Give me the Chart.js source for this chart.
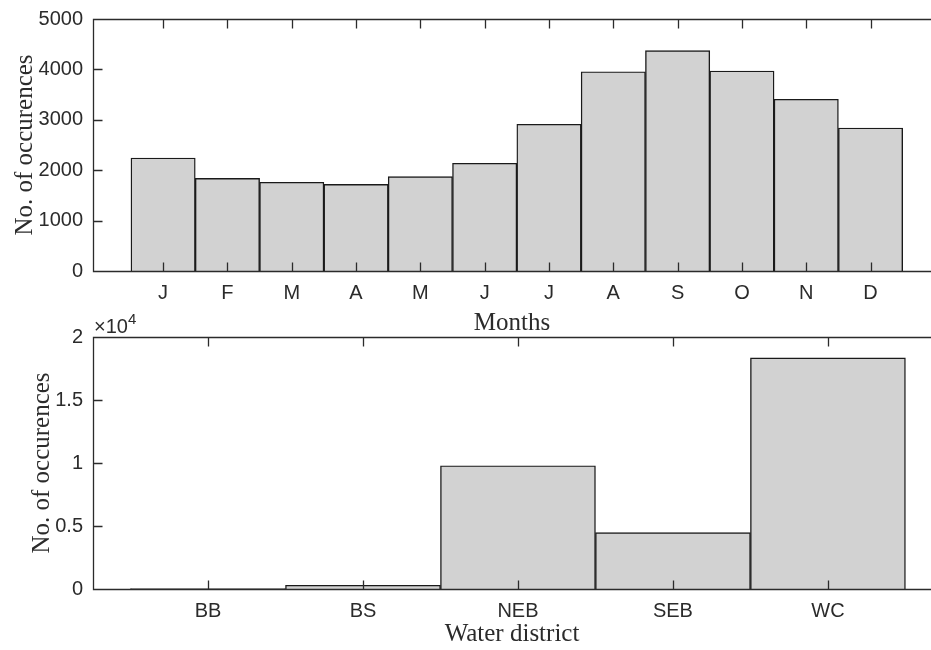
<!DOCTYPE html>
<html>
<head>
<meta charset="utf-8">
<script src="https://cdn.jsdelivr.net/npm/chart.js@4"></script>
<style>
  body { margin: 0; background: #fff; overflow: hidden; width: 931px; height: 650px; position: relative; }
  canvas { position: absolute; left: 0; }
  #monthChart { top: 0; }
  #districtChart { top: 300px; }
</style>
</head>
<body>
<canvas id="monthChart" width="931" height="340"></canvas>
<canvas id="districtChart" width="931" height="350"></canvas>
<script>
// Occurrences by month
const monthLabels = ['J', 'F', 'M', 'A', 'M', 'J', 'J', 'A', 'S', 'O', 'N', 'D'];
const monthCounts = [2242, 1839, 1760, 1720, 1871, 2137, 2911, 3954, 4371, 3968, 3407, 2837];
const monthYTicks = [0, 1000, 2000, 3000, 4000, 5000];

// Occurrences by water district
const districtLabels = ['BB', 'BS', 'NEB', 'SEB', 'WC'];
const districtCounts = [30, 294, 9780, 4475, 18340];
const districtYTicks = [0, 5000, 10000, 15000, 20000];

const axisColor = '#2b2b2b';
const barFill = '#d2d2d2';
const barEdge = '#1a1a1a';
const tickFont = { family: '"Liberation Sans", Arial, sans-serif', size: 20 };
const titleFont = { family: '"Liberation Serif", "Times New Roman", serif', size: 25 };
const tickLen = 9;

Chart.defaults.color = axisColor;

// draw the MATLAB style box with inward ticks
const boxTicks = {
    id: 'boxTicks',
    afterDatasetsDraw(chart) {
        const { ctx, chartArea: a, scales: { x, y } } = chart;
        const l = a.left + 0.5, b = Math.round(a.bottom) + 0.5, t = Math.round(a.top) + 0.5;
        ctx.save();
        ctx.strokeStyle = axisColor;
        ctx.lineWidth = 1.3;
        ctx.beginPath();
        ctx.moveTo(a.right, t);
        ctx.lineTo(l, t);
        ctx.lineTo(l, b);
        ctx.lineTo(a.right, b);
        x.ticks.forEach(tk => {
            const px = Math.round(x.getPixelForValue(tk.value)) + 0.5;
            ctx.moveTo(px, b); ctx.lineTo(px, b - tickLen);
            ctx.moveTo(px, t); ctx.lineTo(px, t + tickLen);
        });
        y.ticks.forEach(tk => {
            const py = Math.round(y.getPixelForValue(tk.value)) + 0.5;
            ctx.moveTo(l, py); ctx.lineTo(l + tickLen, py);
        });
        ctx.stroke();
        const exp = chart.options.plugins.boxTicks && chart.options.plugins.boxTicks.exponent;
        if (exp) {
            ctx.fillStyle = axisColor;
            ctx.textBaseline = 'alphabetic';
            ctx.font = '20px "Liberation Sans", Arial, sans-serif';
            ctx.fillText('\u00d710', a.left + 1, a.top - 4);
            const w = ctx.measureText('\u00d710').width;
            ctx.font = '15px "Liberation Sans", Arial, sans-serif';
            ctx.fillText(exp, a.left + 1 + w, a.top - 13);
        }
        ctx.restore();
    }
};

function makeChart(id, labels, counts, yTicks, opts) {
    const ctx = document.getElementById(id).getContext('2d');
    return new Chart(ctx, {
        type: 'bar',
        data: {
            datasets: [{
                data: counts.map((v, i) => ({ x: i + 1, y: v })),
                backgroundColor: barFill,
                borderColor: barEdge,
                borderWidth: 1.4,
                barPercentage: 1,
                categoryPercentage: 1
            }]
        },
        options: {
            responsive: false,
            animation: false,
            devicePixelRatio: 1,
            layout: { padding: { top: opts.padTop, left: 0, right: 0, bottom: 0 } },
            plugins: {
                legend: { display: false },
                tooltip: { enabled: false },
                boxTicks: { exponent: opts.exponent }
            },
            scales: {
                x: {
                    type: 'linear',
                    offset: false,
                    min: opts.xMin,
                    max: opts.xMax,
                    grid: { display: false, offset: false },
                    border: { display: false },
                    afterBuildTicks: s => { s.ticks = labels.map((l, i) => ({ value: i + 1 })); },
                    afterFit: s => { s.height = opts.xHeight; },
                    ticks: {
                        font: tickFont,
                        padding: opts.xTickPad,
                        maxRotation: 0,
                        autoSkip: false,
                        callback: v => labels[v - 1]
                    },
                    title: { display: true, text: opts.xTitle, font: titleFont, padding: opts.xTitlePad }
                },
                y: {
                    min: 0,
                    max: yTicks[yTicks.length - 1],
                    grid: { display: false },
                    border: { display: false },
                    afterBuildTicks: s => { s.ticks = yTicks.map(v => ({ value: v })); },
                    afterFit: s => { s.width = 93; },
                    ticks: {
                        font: tickFont,
                        padding: 2,
                        callback: opts.yFormat
                    },
                    title: { display: true, text: 'No. of occurences', font: titleFont, padding: opts.yTitlePad }
                }
            }
        },
        plugins: [boxTicks]
    });
}

makeChart('monthChart', monthLabels, monthCounts, monthYTicks, {
    padTop: 19, xMin: -0.09, xMax: 12.94, xHeight: 69, xTickPad: 2,
    xTitle: 'Months', xTitlePad: { top: 0, bottom: 2 }, yTitlePad: { top: 10, bottom: 0 },
    yFormat: v => String(v), exponent: null
});

makeChart('districtChart', districtLabels, districtCounts, districtYTicks, {
    padTop: 37, xMin: 0.258, xMax: 5.665, xHeight: 61, xTickPad: 2,
    xTitle: 'Water district', xTitlePad: { top: 0, bottom: 1 }, yTitlePad: { top: 27, bottom: 0 },
    yFormat: v => String(v / 10000), exponent: '4'
});
</script>
</body>
</html>
